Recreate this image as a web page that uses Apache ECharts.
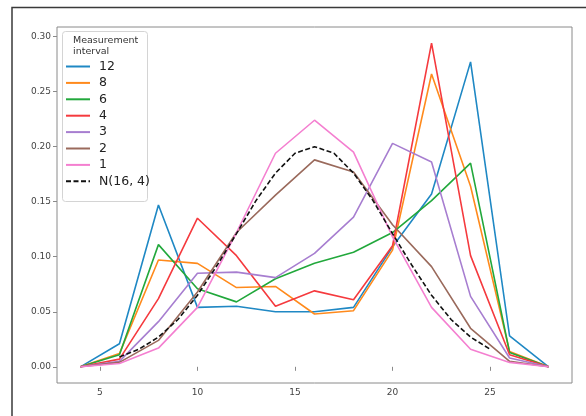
<!DOCTYPE html>
<html>
<head>
<meta charset="utf-8">
<script src="https://cdn.jsdelivr.net/npm/echarts@6/dist/echarts.min.js"></script>
<style>
  html, body { margin: 0; padding: 0; background: #fff; }
  #chart { width: 586px; height: 416px; }
</style>
</head>
<body>
<div id="chart"></div>
<script>
// measurement points (x) shared by the interval series
const xs = [4, 6, 8, 10, 12, 14, 16, 18, 20, 22, 24, 26, 28];
const s12 = [0, 0.021, 0.147, 0.054, 0.055, 0.050, 0.050, 0.054, 0.109, 0.157, 0.277, 0.028, 0];
const s8  = [0, 0.012, 0.097, 0.094, 0.072, 0.073, 0.048, 0.051, 0.106, 0.266, 0.164, 0.014, 0];
const s6  = [0, 0.011, 0.111, 0.071, 0.059, 0.080, 0.094, 0.104, 0.122, 0.151, 0.185, 0.013, 0];
const s4  = [0, 0.007, 0.062, 0.135, 0.101, 0.055, 0.069, 0.061, 0.110, 0.294, 0.101, 0.011, 0];
const s3  = [0, 0.005, 0.041, 0.085, 0.086, 0.081, 0.103, 0.136, 0.203, 0.186, 0.064, 0.008, 0];
const s2  = [0, 0.004, 0.024, 0.068, 0.122, 0.156, 0.188, 0.177, 0.129, 0.091, 0.035, 0.005, 0];
const s1  = [0, 0.003, 0.017, 0.054, 0.122, 0.194, 0.224, 0.195, 0.118, 0.054, 0.016, 0.004, 0];

// reference curve N(16, 4), read at unit steps
const nx = [6, 7, 8, 9, 10, 11, 12, 13, 14, 15, 16, 17, 18, 19, 20, 21, 22, 23, 24, 25];
const ny = [0.009, 0.016, 0.027, 0.043, 0.065, 0.092, 0.121, 0.151, 0.176, 0.194,
            0.200, 0.194, 0.176, 0.151, 0.121, 0.092, 0.065, 0.043, 0.027, 0.016];

const xTicks = [5, 10, 15, 20, 25];
const yTicks = [0, 0.05, 0.10, 0.15, 0.20, 0.25, 0.30];

const names  = ['12', '8', '6', '4', '3', '2', '1'];
const values = [s12, s8, s6, s4, s3, s2, s1];
const colors = ['#1f88c4', '#ff8a1c', '#22a83c', '#f53a3e', '#a77ed0', '#9a6a5c', '#f47fd0'];

function pairs(x, y) {
  return x.map((v, i) => [v, y[i]]);
}

let series = names.map((n, i) => ({
  name: n,
  type: 'line',
  data: pairs(xs, values[i]),
  symbol: 'none',
  color: colors[i],
  lineStyle: { width: 1.6, color: colors[i] }
}));
series.push({
  name: 'N(16, 4)',
  type: 'line',
  data: pairs(nx, ny),
  symbol: 'none',
  color: '#111',
  lineStyle: { width: 1.6, color: '#111', type: [5, 2.5] },
  z: 3
});

const axisGray = '#8a8a8a';
const labelColor = '#444';

let chart = echarts.init(document.getElementById('chart'));
let option = {
  animation: false,
  backgroundColor: '#fff',
  grid: {
    left: 57, top: 27, right: 14, bottom: 33,
    show: true, borderColor: axisGray, borderWidth: 1, backgroundColor: 'transparent'
  },
  xAxis: {
    type: 'value',
    min: 2.8,
    max: 29.2,
    splitLine: { show: false },
    axisLine: { show: false },
    axisTick: { show: true, length: 4, lineStyle: { color: axisGray }, customValues: xTicks },
    axisLabel: {
      customValues: xTicks, color: labelColor, fontFamily: 'DejaVu Sans', fontSize: 9, margin: 5
    }
  },
  yAxis: {
    type: 'value',
    min: -0.0147,
    max: 0.3087,
    splitLine: { show: false },
    axisLine: { show: false },
    axisTick: { show: true, length: 4, lineStyle: { color: axisGray }, customValues: yTicks },
    axisLabel: {
      customValues: yTicks, color: labelColor, fontFamily: 'DejaVu Sans', fontSize: 9, margin: 6,
      formatter: v => v.toFixed(2)
    }
  },
  legend: {
    orient: 'vertical',
    left: 65,
    top: 60,
    padding: 0,
    itemWidth: 24,
    itemHeight: 14,
    itemGap: 3.4,
    itemStyle: { opacity: 0 },
    data: names.concat(['N(16, 4)']),
    textStyle: { fontFamily: 'DejaVu Sans', fontSize: 12.5, color: '#222', padding: [0, 0, 0, 4] }
  },
  graphic: [
    {
      type: 'rect',
      z: 3,
      shape: { x: 62.5, y: 31.5, width: 85, height: 170, r: 3 },
      style: { fill: 'rgba(255,255,255,0.85)', stroke: '#d4d4d4', lineWidth: 1 }
    },
    {
      type: 'text',
      z: 4,
      left: 73,
      top: 35,
      style: {
        text: 'Measurement\ninterval',
        fill: '#333',
        font: '9.5px "DejaVu Sans"',
        lineHeight: 11
      }
    },
    {
      type: 'rect',
      z: 10,
      silent: true,
      shape: { x: 12, y: 7.5, width: 620, height: 440 },
      style: { fill: 'none', stroke: '#3a3a3a', lineWidth: 1.5 }
    }
  ],
  series: series
};
// 使用配置项绘制
chart.setOption(option);
</script>
</body>
</html>
